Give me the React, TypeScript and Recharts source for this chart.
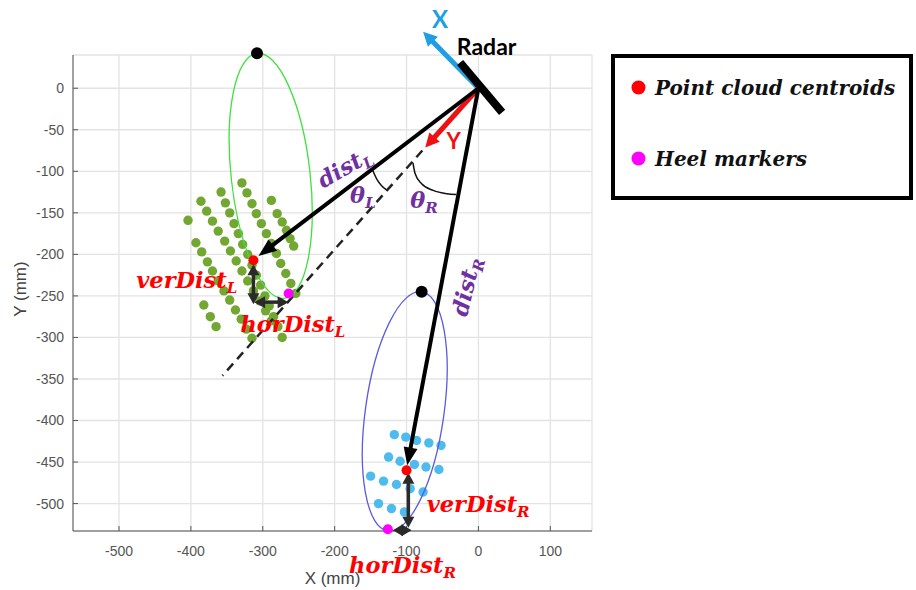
import React from 'react';
import {
  ScatterChart,
  Scatter,
  XAxis,
  YAxis,
  CartesianGrid,
  ReferenceLine,
  ReferenceDot,
  Legend,
  Label,
} from 'recharts';

const W = 916;
const H = 590;

const xTicks = [-500, -400, -300, -200, -100, 0, 100];
const yTicks = [-500, -450, -400, -350, -300, -250, -200, -150, -100, -50, 0];

// Left foot point cloud (green)
const greenCloud = [
  { x: -404, y: -159 },
  { x: -393, y: -186 }, { x: -385, y: -197 }, { x: -377, y: -209 }, { x: -370, y: -220 },
  { x: -362, y: -232 }, { x: -354, y: -244 }, { x: -346, y: -255 }, { x: -338, y: -267 },
  { x: -330, y: -278 }, { x: -323, y: -290 }, { x: -315, y: -301 },
  { x: -386, y: -136 }, { x: -378, y: -148 }, { x: -370, y: -160 }, { x: -362, y: -172 },
  { x: -353, y: -184 }, { x: -345, y: -196 }, { x: -337, y: -208 }, { x: -329, y: -220 },
  { x: -321, y: -232 }, { x: -313, y: -244 }, { x: -304, y: -256 }, { x: -296, y: -268 },
  { x: -288, y: -280 },
  { x: -358, y: -125 }, { x: -352, y: -138 }, { x: -346, y: -150 }, { x: -340, y: -163 },
  { x: -334, y: -175 }, { x: -328, y: -188 }, { x: -321, y: -200 }, { x: -315, y: -213 },
  { x: -309, y: -225 }, { x: -303, y: -237 }, { x: -297, y: -250 }, { x: -291, y: -262 },
  { x: -285, y: -275 }, { x: -279, y: -287 }, { x: -273, y: -300 },
  { x: -329, y: -114 }, { x: -322, y: -126 }, { x: -315, y: -139 }, { x: -309, y: -151 },
  { x: -302, y: -163 }, { x: -295, y: -175 }, { x: -288, y: -187 }, { x: -281, y: -199 },
  { x: -275, y: -211 }, { x: -268, y: -223 }, { x: -261, y: -235 }, { x: -254, y: -247 },
  { x: -288, y: -135 }, { x: -280, y: -151 }, { x: -273, y: -161 }, { x: -267, y: -171 },
  { x: -262, y: -181 }, { x: -257, y: -190 },
  { x: -382, y: -261 }, { x: -373, y: -275 }, { x: -365, y: -287 },
];

// Right foot point cloud (blue)
const blueCloud = [
  { x: -117, y: -417 }, { x: -101, y: -420 }, { x: -86, y: -424 }, { x: -69, y: -427 }, { x: -52, y: -430 },
  { x: -125, y: -444 }, { x: -109, y: -449 }, { x: -89, y: -453 }, { x: -73, y: -456 }, { x: -55, y: -459 },
  { x: -150, y: -467 }, { x: -132, y: -473 }, { x: -114, y: -477 }, { x: -95, y: -482 }, { x: -77, y: -486 },
  { x: -139, y: -500 }, { x: -121, y: -506 }, { x: -103, y: -510 },
];

const centroids = [{ x: -313, y: -207 }, { x: -100, y: -460 }];
const heelMarkers = [{ x: -264, y: -247 }, { x: -126, y: -531 }];
const trajectoryStarts = [{ x: -308, y: 42 }, { x: -79, y: -245 }];

const ellipseLeftAxis = [{ x: -308, y: 42 }, { x: -270, y: -253 }];
const ellipseRightAxis = [{ x: -79, y: -245 }, { x: -126, y: -533 }];

const radarBar = [{ x: -25.5, y: 31 }, { x: 33, y: -29 }];
const xArrow = [{ x: 0, y: 0 }, { x: -77, y: 68 }];
const yArrow = [{ x: 0, y: 0 }, { x: -74, y: -71.5 }];
const distLArrow = [{ x: 0, y: 0 }, { x: -306, y: -202 }];
const distRArrow = [{ x: 0, y: 0 }, { x: -99, y: -454 }];
const radarYDashed = [{ x: -78, y: -75 }, { x: -356, y: -346 }];
const verDistL = [{ x: -313, y: -212 }, { x: -313, y: -260 }];
const horDistL = [{ x: -312, y: -257.5 }, { x: -264, y: -257.5 }];
const verDistR = [{ x: -97.5, y: -463 }, { x: -97.5, y: -529 }];
const horDistR = [{ x: -119, y: -532 }, { x: -93, y: -532 }];

const thetaLArc = [
  { x: -147, y: -99 }, { x: -141, y: -110 }, { x: -135, y: -117 }, { x: -127, y: -123 },
];
const thetaRArc = [
  { x: -91, y: -90 }, { x: -88, y: -103 }, { x: -79, y: -115 }, { x: -63, y: -123 },
  { x: -44, y: -127 }, { x: -31, y: -128 },
];

const mathLabels = [
  { id: 'distL', x: -216, y: -121, main: 'dist', sub: 'L' },
  { id: 'thetaL', x: -178.5, y: -138, main: 'θ', sub: 'L' },
  { id: 'thetaR', x: -95, y: -144, main: 'θ', sub: 'R' },
  { id: 'distR', x: -16, y: -276, main: 'dist', sub: 'R' },
  { id: 'verDistL', x: -476, y: -240, main: 'verDist', sub: 'L' },
  { id: 'horDistL', x: -331, y: -294, main: 'horDist', sub: 'L' },
  { id: 'verDistR', x: -72, y: -510, main: 'verDist', sub: 'R' },
  { id: 'horDistR', x: -180, y: -583, main: 'horDist', sub: 'R' },
];

const plainLabels = [
  { id: 'radar', x: -30, y: 39.4, text: 'Radar' },
  { id: 'X', x: -53.3, y: 73, text: 'X' },
  { id: 'Y', x: -34.5, y: -73.2, text: 'Y' },
];

const legendNames = ['Point cloud centroids', 'Heel markers'];

const PURPLE = '#7030a0';
const RED = '#ff0000';
const mathStyle: Record<string, { color: string; angle: number }> = {
  distL: { color: PURPLE, angle: -30 },
  thetaL: { color: PURPLE, angle: 0 },
  thetaR: { color: PURPLE, angle: 0 },
  distR: { color: PURPLE, angle: -77 },
  verDistL: { color: RED, angle: 0 },
  horDistL: { color: RED, angle: 0 },
  verDistR: { color: RED, angle: 0 },
  horDistR: { color: RED, angle: 0 },
};
const plainStyle: Record<string, any> = {
  radar: { fill: '#000', fontSize: 23, fontWeight: 'bold', anchor: 'start' },
  X: { fill: '#1e9fe3', fontSize: 24, fontWeight: 'bold', anchor: 'middle' },
  Y: { fill: '#ee1111', fontSize: 22, fontWeight: 'bold', anchor: 'middle' },
};

function ArrowShape(props: any) {
  const { x1, y1, x2, y2, color, w, hl, hw, both } = props;
  const dx = x2 - x1;
  const dy = y2 - y1;
  const len = Math.hypot(dx, dy) || 1;
  const ux = dx / len;
  const uy = dy / len;
  const nx = -uy;
  const ny = ux;
  const head = (tx: number, ty: number, sx: number, sy: number) =>
    `${tx},${ty} ${tx - sx * hl + (nx * hw) / 2},${ty - sy * hl + (ny * hw) / 2} ${tx - sx * hl - (nx * hw) / 2},${ty - sy * hl - (ny * hw) / 2}`;
  const sx1 = both ? x1 + ux * hl * 0.9 : x1;
  const sy1 = both ? y1 + uy * hl * 0.9 : y1;
  return (
    <g>
      <line x1={sx1} y1={sy1} x2={x2 - ux * hl * 0.9} y2={y2 - uy * hl * 0.9} stroke={color} strokeWidth={w} />
      <polygon points={head(x2, y2, ux, uy)} fill={color} />
      {both ? <polygon points={head(x1, y1, -ux, -uy)} fill={color} /> : null}
    </g>
  );
}

function EllipseShape(props: any) {
  const { x1, y1, x2, y2, ratio, color } = props;
  const cx = (x1 + x2) / 2;
  const cy = (y1 + y2) / 2;
  const len = Math.hypot(x2 - x1, y2 - y1);
  const ang = (Math.atan2(y2 - y1, x2 - x1) * 180) / Math.PI - 90;
  return (
    <ellipse
      cx={cx}
      cy={cy}
      rx={(len / 2) * ratio}
      ry={len / 2}
      transform={`rotate(${ang} ${cx} ${cy})`}
      fill="none"
      stroke={color}
      strokeWidth={1.3}
    />
  );
}

function BarShape(props: any) {
  return <line x1={props.x1} y1={props.y1} x2={props.x2} y2={props.y2} stroke="#000" strokeWidth={8} />;
}

function MathText(props: any) {
  const { cx, cy, main, sub, color, angle } = props;
  const size = 22.5;
  return (
    <text
      x={cx}
      y={cy}
      fill={color}
      fontFamily="'DejaVu Serif', serif"
      fontStyle="italic"
      fontWeight="bold"
      fontSize={size}
      transform={angle ? `rotate(${angle} ${cx} ${cy})` : undefined}
    >
      {main}
      <tspan fontSize={15} dy={5}>{sub}</tspan>
    </text>
  );
}

const dotShape = (r: number, fill: string) => (p: any) => <circle cx={p.cx} cy={p.cy} r={r} fill={fill} />;
const emptyShape = () => <g />;

const renderLegend = (props: any) => {
  const items = legendNames
    .map((n) => (props.payload || []).find((p: any) => p.value === n))
    .filter(Boolean);
  return (
    <svg width={302} height={146} style={{ display: 'block' }}>
      <rect x={2} y={2} width={298} height={142} fill="#fff" stroke="#000" strokeWidth={4} />
      {items.map((it: any, i: number) => (
        <g key={it.value}>
          <circle cx={27.5} cy={33.5 + i * 71} r={7} fill={it.color} />
          <text
            x={44}
            y={41 + i * 71}
            fontFamily="'DejaVu Serif', serif"
            fontStyle="italic"
            fontWeight="bold"
            fontSize={20}
            fill="#111"
          >
            {it.value}
          </text>
        </g>
      ))}
    </svg>
  );
};

const xLabel = (props: any) => {
  const vb = props.viewBox || {};
  return (
    <text x={vb.x + vb.width / 2} y={vb.y + 53} textAnchor="middle" fontFamily="'Liberation Sans', Arial, sans-serif" fontSize={17} fill="#444">
      X (mm)
    </text>
  );
};
const yLabel = (props: any) => {
  const vb = props.viewBox || {};
  const x = vb.x + 7;
  const y = vb.y + vb.height / 2 - 4;
  return (
    <text x={x} y={y} textAnchor="middle" dominantBaseline="central" transform={`rotate(-90 ${x} ${y})`} fontFamily="'Liberation Sans', Arial, sans-serif" fontSize={17} fill="#444">
      Y (mm)
    </text>
  );
};

const tickStyle = { fill: '#555', fontSize: 14, fontFamily: "'Liberation Sans', Arial, sans-serif" };

export default function App() {
  return (
    <div style={{ position: 'absolute', left: 0, top: 0, width: W, height: H, background: '#fff' }}>
      <ScatterChart width={W} height={H} margin={{ top: 55, right: 324, bottom: 29, left: 13 }}>
        <CartesianGrid stroke="#e3e3e3" strokeWidth={1.3} />
        <XAxis
          type="number"
          dataKey="x"
          domain={[-564, 158]}
          ticks={xTicks}
          interval={0}
          height={30}
          tickSize={-5}
          tickMargin={20}
          stroke="#555"
          tick={tickStyle}
        >
          <Label content={xLabel} />
        </XAxis>
        <YAxis
          type="number"
          dataKey="y"
          domain={[-533, 40]}
          ticks={yTicks}
          interval={0}
          width={60}
          tickSize={-5}
          tickMargin={14}
          stroke="#555"
          tick={tickStyle}
        >
          <Label content={yLabel} />
        </YAxis>

        <Scatter name="left cloud" data={greenCloud} fill="#72a732" shape={dotShape(4.7, '#72a732')} legendType="none" isAnimationActive={false} />
        <Scatter name="right cloud" data={blueCloud} fill="#4dbbee" shape={dotShape(4.7, '#4dbbee')} legendType="none" isAnimationActive={false} />

        <ReferenceLine segment={ellipseLeftAxis} ifOverflow="visible" zIndex={650} shape={(p: any) => <EllipseShape {...p} ratio={0.32} color="#3fe03f" />} />
        <ReferenceLine segment={ellipseRightAxis} ifOverflow="visible" zIndex={650} shape={(p: any) => <EllipseShape {...p} ratio={0.325} color="#5b5be0" />} />

        <Scatter name="theta L" data={thetaLArc} fill="#111" line={{ stroke: '#111', strokeWidth: 1.5 }} lineJointType="monotoneX" shape={emptyShape} legendType="none" isAnimationActive={false} />
        <Scatter name="theta R" data={thetaRArc} fill="#111" line={{ stroke: '#111', strokeWidth: 1.5 }} lineJointType="monotoneX" shape={emptyShape} legendType="none" isAnimationActive={false} />

        <ReferenceLine segment={radarYDashed} ifOverflow="visible" zIndex={650} stroke="#222" strokeWidth={2.5} strokeDasharray="9 6" />
        <ReferenceLine segment={radarBar} ifOverflow="visible" zIndex={650} shape={(p: any) => <BarShape {...p} />} />
        <ReferenceLine segment={xArrow} ifOverflow="visible" zIndex={640} shape={(p: any) => <ArrowShape {...p} color="#1e9fe3" w={5} hl={14} hw={14} />} />
        <ReferenceLine segment={yArrow} ifOverflow="visible" zIndex={650} shape={(p: any) => <ArrowShape {...p} color="#ee1111" w={5} hl={14} hw={14} />} />
        <ReferenceLine segment={distLArrow} ifOverflow="visible" zIndex={650} shape={(p: any) => <ArrowShape {...p} color="#000" w={4} hl={18} hw={14} />} />
        <ReferenceLine segment={distRArrow} ifOverflow="visible" zIndex={650} shape={(p: any) => <ArrowShape {...p} color="#000" w={4} hl={18} hw={14} />} />
        <ReferenceLine segment={verDistL} ifOverflow="visible" zIndex={650} shape={(p: any) => <ArrowShape {...p} color="#2a2a2a" w={3.5} hl={11} hw={12} both />} />
        <ReferenceLine segment={horDistL} ifOverflow="visible" zIndex={650} shape={(p: any) => <ArrowShape {...p} color="#2a2a2a" w={3.5} hl={11} hw={12} both />} />
        <ReferenceLine segment={verDistR} ifOverflow="visible" zIndex={650} shape={(p: any) => <ArrowShape {...p} color="#2a2a2a" w={3.5} hl={11} hw={12} both />} />
        <ReferenceLine segment={horDistR} ifOverflow="visible" zIndex={650} shape={(p: any) => <ArrowShape {...p} color="#2a2a2a" w={3.5} hl={10} hw={12} both />} />

        <Scatter name="Point cloud centroids" data={centroids} fill="#ff0000" shape={dotShape(5, '#ff0000')} isAnimationActive={false} zIndex={660} />
        <Scatter name="Heel markers" data={heelMarkers} fill="#ff00ff" shape={dotShape(5, '#ff00ff')} isAnimationActive={false} zIndex={660} />

        {trajectoryStarts.map((d, i) => (
          <ReferenceDot key={`start-${i}`} x={d.x} y={d.y} ifOverflow="visible" zIndex={660} shape={(p: any) => <circle cx={p.cx} cy={p.cy} r={6} fill="#000" />} />
        ))}

        {mathLabels.map((m) => (
          <ReferenceDot
            key={m.id}
            x={m.x}
            y={m.y}
            ifOverflow="visible"
            zIndex={700}
            shape={(p: any) => <MathText cx={p.cx} cy={p.cy} main={m.main} sub={m.sub} color={mathStyle[m.id].color} angle={mathStyle[m.id].angle} />}
          />
        ))}
        {plainLabels.map((t) => (
          <ReferenceDot
            key={t.id}
            x={t.x}
            y={t.y}
            ifOverflow="visible"
            zIndex={700}
            shape={(p: any) => (
              <text
                x={p.cx}
                y={p.cy}
                textAnchor={plainStyle[t.id].anchor}
                fill={plainStyle[t.id].fill}
                fontSize={plainStyle[t.id].fontSize}
                fontWeight={plainStyle[t.id].fontWeight}
                fontFamily="Lato, 'Open Sans', sans-serif"
              >
                {t.text}
              </text>
            )}
          />
        ))}

        <Legend
          content={renderLegend}
          layout="horizontal"
          align="center"
          verticalAlign="middle"
          wrapperStyle={{ left: 611, top: 54, right: 'auto', bottom: 'auto', width: 302, height: 146 }}
        />
      </ScatterChart>
    </div>
  );
}
